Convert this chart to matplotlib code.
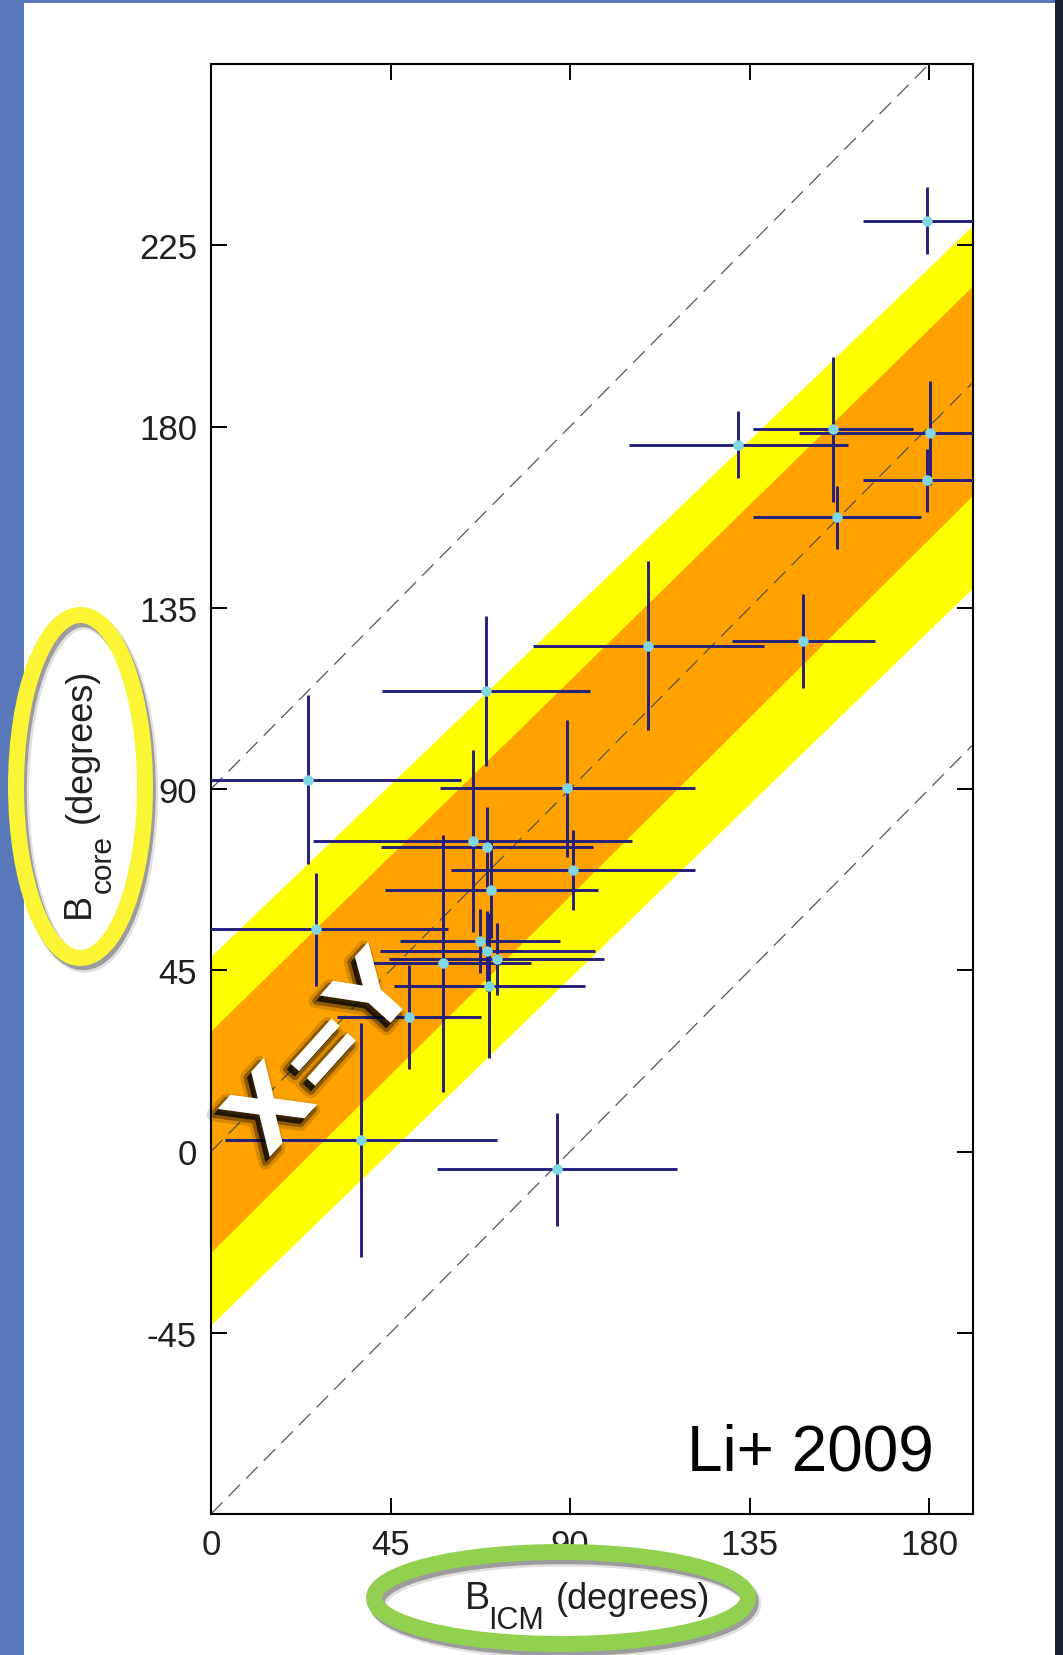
import matplotlib
matplotlib.use("Agg")
import matplotlib.pyplot as plt
import matplotlib.patheffects as pe
from matplotlib.patches import Ellipse, Rectangle
from matplotlib import font_manager

plt.rcParams['axes.unicode_minus'] = False

# core vs. intercloud field directions (degrees)
b_icm = [179.5, 155.9, 132.2, 156.9, 180.3, 179.5, 109.6, 148.5,
         24.2, 68.9, 89.3, 65.6, 69.2, 90.7, 70.2, 26.3,
         67.4, 69.3, 71.6, 58.1, 69.8, 49.7, 37.6, 86.7]
b_core = [231.1, 179.3, 175.5, 157.5, 178.4, 166.6, 125.6, 126.8,
          92.3, 114.4, 90.2, 77.1, 75.6, 69.9, 64.9, 55.2,
          52.3, 49.8, 47.8, 46.7, 41.1, 33.4, 2.8, -4.4]
err_icm = [16, 20, 27.5, 21, 33, 16, 29, 18,
           38.5, 26, 32, 40, 26.5, 30.5, 26.7, 33,
           20, 27, 27, 22, 24, 18, 34, 30]
err_core = [8.3, 18, 8.3, 7.8, 13, 7.8, 21, 11.6,
            21, 18.6, 17, 22.7, 10, 10, 12, 14,
            8, 10, 9, 32, 18, 13, 29, 14]

# shaded bands around the one-to-one relation
band_x = [0, 191]
yellow_hi = [48.5, 230]
orange_hi = [30, 215]
orange_lo = [-25, 163]
yellow_lo = [-43, 140]
diag_offsets = [-90, 0, 90]

x_ticks = [0, 45, 90, 135, 180]
y_ticks = [-45, 0, 45, 90, 135, 180, 225]

names = {f.name for f in font_manager.fontManager.ttflist}
narrow = 'Liberation Sans Narrow' if 'Liberation Sans Narrow' in names else 'Liberation Sans'

W, H = 1063, 1656


def fx(px):
    return px / W


def fy(py):
    return 1 - py / H


fig = plt.figure(figsize=(W / 100, H / 100), dpi=100)
fig.patch.set_facecolor('white')

# slide frame
fig.add_artist(Rectangle((0, 0), fx(24), 1, transform=fig.transFigure,
                         color='#5879b9', lw=0, zorder=0))
fig.add_artist(Rectangle((0, fy(4)), 1, 4 / H, transform=fig.transFigure,
                         color='#5879b9', lw=0, zorder=0))
fig.add_artist(Rectangle((fx(1055), 0), 8 / W, 1, transform=fig.transFigure,
                         color='#1c2232', lw=0, zorder=0))

ax = fig.add_axes([fx(211), fy(1515), (973 - 211) / W, (1515 - 65) / H])
ax.set_xlim(0, 191)
ax.set_ylim(-90, 270)

ax.fill_between(band_x, yellow_lo, yellow_hi, color='#ffff00', lw=0, zorder=1)
ax.fill_between(band_x, orange_lo, orange_hi, color='#ffa200', lw=0, zorder=2)

for off in diag_offsets:
    ax.plot(band_x, [x + off for x in band_x], color='#555555', lw=0.9,
            dashes=(13, 7), zorder=2.5)

ax.errorbar(b_icm, b_core, xerr=err_icm, yerr=err_core, fmt='none',
            ecolor='#241f7c', elinewidth=2.1, capsize=0, zorder=3)
ax.plot(b_icm, b_core, 'o', ms=7.5, mfc='#80d8e4', mec='none', zorder=4)

ax.set_xticks(x_ticks)
ax.set_yticks(y_ticks)
ax.tick_params(direction='in', length=11.5, width=1.4, top=True, right=True,
               labelsize=25, labelcolor='#202020', pad=10)
for lbl in ax.get_xticklabels() + ax.get_yticklabels():
    lbl.set_family(narrow)
for s in ax.spines.values():
    s.set_linewidth(1.5)

t = ax.text(28.5, 23.6, 'X=Y', rotation=48, rotation_mode='anchor',
            ha='center', va='center', fontsize=70, fontweight='bold',
            family='DejaVu Sans', color='white', zorder=6)
t.set_path_effects([
    pe.SimpleLineShadow(offset=(-3, -4), shadow_color='k', alpha=0.15, linewidth=10),
    pe.SimpleLineShadow(offset=(-3, -4), shadow_color='k', alpha=0.35, linewidth=5),
    pe.SimplePatchShadow(offset=(-3, -4), shadow_rgbFace='k', alpha=0.75),
    pe.Normal()])

ax.text(0.949, 0.031, 'Li+ 2009', transform=ax.transAxes, ha='right',
        va='baseline', fontsize=46, family='Liberation Sans', color='black')

# axis labels with dropped subscripts
lab = dict(family=narrow, color='#202020')
fig.text(fx(465), fy(1609), 'B', ha='left', va='baseline', fontsize=27, **lab)
fig.text(fx(488), fy(1629), 'ICM', ha='left', va='baseline', fontsize=22, **lab)
fig.text(fx(556), fy(1609), '(degrees)', ha='left', va='baseline', fontsize=26, **lab)

fig.text(fx(89), fy(918), 'B', rotation=90, rotation_mode='anchor',
         ha='left', va='baseline', fontsize=27, **lab)
fig.text(fx(111), fy(893), 'core', rotation=90, rotation_mode='anchor',
         ha='left', va='baseline', fontsize=21.5, **lab)
fig.text(fx(91), fy(823), '(degrees)', rotation=90, rotation_mode='anchor',
         ha='left', va='baseline', fontsize=26, **lab)

# highlight rings
shadow = [pe.SimpleLineShadow(offset=(3, -4), shadow_color='k', alpha=0.12, linewidth=13),
          pe.SimpleLineShadow(offset=(2, -3), shadow_color='k', alpha=0.3),
          pe.Normal()]
ring_y = Ellipse((fx(80.5), fy(787.5)), 129 / W, 343 / H, transform=fig.transFigure,
                 fill=False, edgecolor='#fbf535', linewidth=11.5, zorder=7)
ring_y.set_path_effects(shadow)
fig.add_artist(ring_y)
ring_x = Ellipse((fx(561), fy(1599)), 374 / W, 92 / H, transform=fig.transFigure,
                 fill=False, edgecolor='#92d050', linewidth=11.5, zorder=7)
ring_x.set_path_effects(shadow)
fig.add_artist(ring_x)

fig.savefig('out.png', dpi=100)
